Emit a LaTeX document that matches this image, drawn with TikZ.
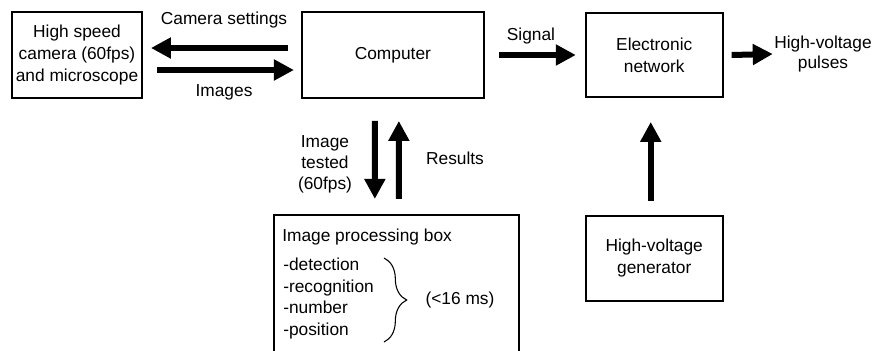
\documentclass[tikz,border=0pt]{standalone}
\usepackage{fontspec}
\setmainfont{Liberation Sans}
\usetikzlibrary{positioning, arrows.meta, calc, decorations.pathreplacing}

\begin{document}
\begin{tikzpicture}[
    x=0.75pt, y=-0.75pt,
    font=\fontsize{13}{16.5}\selectfont,
    block/.style={rectangle, draw, line width=1.4pt, align=center, inner sep=0pt},
    bigarrow/.style={-{Triangle[length=15pt, width=15pt]}, line width=4.5pt},
    tag/.style={align=center, inner sep=0pt}
  ]
    \useasboundingbox (0,0) rectangle (873,350);

    % boxes
    \node[block, minimum width=97.5pt, minimum height=64.5pt] (cam) at (77,55) {High speed\\camera (60fps)\\and microscope};
    \node[block, minimum width=136.5pt, minimum height=64.5pt, right=118.5pt of cam] (comp) {Computer};
    \node[block, minimum width=102.75pt, minimum height=63pt, right=75pt of comp] (net) {Electronic\\network};
    \node[block, minimum width=102.75pt, minimum height=63.75pt, below=87.75pt of net] (gen) {High-voltage\\generator};
    \node[block, minimum width=183.75pt, minimum height=112.5pt, below=86.25pt of comp, xshift=2.6pt] (proc) {};

    % inside the processing box
    \node[tag, anchor=west] (title) at (282,237) {Image processing box};
    \node[tag, anchor=west, align=left, font=\fontsize{13}{16.2}\selectfont] (items) at (283,298.5) {-detection\\-recognition\\-number\\-position};
    \draw[decorate, decoration={brace, amplitude=17pt}, line width=0.8pt] (384,258) -- (384,342);
    \node[tag] (time) at (460,300) {(<16 ms)};

    % labels
    \node[tag] (settings) at (224,20) {Camera settings};
    \node[tag] (images) at (224,92) {Images};
    \node[tag] (signal) at (531,36) {Signal};
    \node[tag, font=\fontsize{13}{15}\selectfont] (pulses) at (823,54) {High-voltage\\pulses};
    \node[tag, font=\fontsize{13}{15.8}\selectfont] (tested) at (325,164) {Image\\tested\\(60fps)};
    \node[tag] (results) at (455,158) {Results};

    % arrows
    \draw[bigarrow] ($(comp.west)+(-13,-7)$) -- ($(cam.east)+(8,-7)$);
    \draw[bigarrow] ($(cam.east)+(14,15)$) -- ($(comp.west)+(-7,15)$);
    \draw[bigarrow] ($(comp.east)+(14,0)$) -- ($(net.west)+(-9,0)$);
    \draw[bigarrow] ($(net.east)+(8,0)$) -- ([xshift=-1pt]pulses.west);
    \draw[bigarrow] ($(comp.south)+(-18,22)$) -- ($(proc.north)+(-21.5,-15)$);
    \draw[bigarrow] ($(proc.north)+(2.5,-15)$) -- ($(comp.south)+(6,22)$);
    \draw[bigarrow] ($(gen.north)+(-3.5,-14)$) -- ($(net.south)+(-3.5,24)$);
\end{tikzpicture}
\end{document}
